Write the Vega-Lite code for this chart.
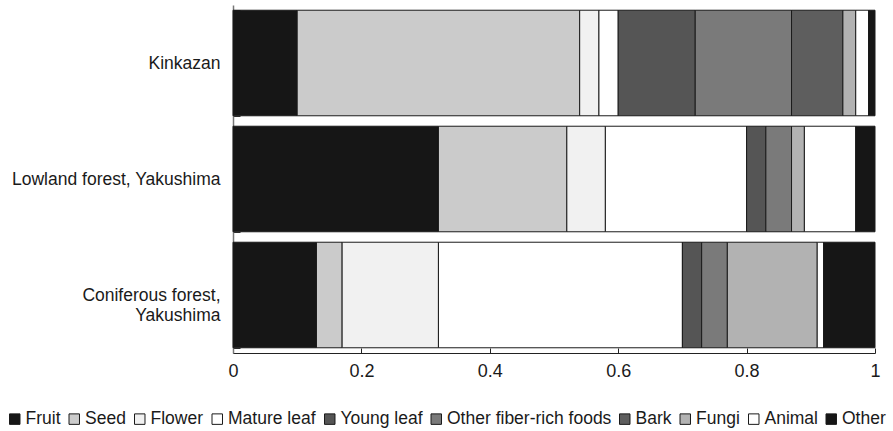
{
  "$schema": "https://vega.github.io/schema/vega-lite/v6.json",
  "autosize": "none",
  "padding": {"left": 233, "top": 5, "right": 18, "bottom": 78},
  "width": 642,
  "height": 348,
  "config": {
    "font": "Liberation Sans",
    "view": {"stroke": null},
    "axis": {"labelFont": "Liberation Sans", "labelColor": "#1a1a1a", "title": null, "grid": false}
  },
  "data": {
    "values": [
      {"site": "Kinkazan", "food": "Fruit", "prop": 0.10},
      {"site": "Kinkazan", "food": "Seed", "prop": 0.44},
      {"site": "Kinkazan", "food": "Flower", "prop": 0.03},
      {"site": "Kinkazan", "food": "Mature leaf", "prop": 0.03},
      {"site": "Kinkazan", "food": "Young leaf", "prop": 0.12},
      {"site": "Kinkazan", "food": "Other fiber-rich foods", "prop": 0.15},
      {"site": "Kinkazan", "food": "Bark", "prop": 0.08},
      {"site": "Kinkazan", "food": "Fungi", "prop": 0.02},
      {"site": "Kinkazan", "food": "Animal", "prop": 0.02},
      {"site": "Kinkazan", "food": "Other", "prop": 0.01},
      {"site": "Lowland forest, Yakushima", "food": "Fruit", "prop": 0.32},
      {"site": "Lowland forest, Yakushima", "food": "Seed", "prop": 0.20},
      {"site": "Lowland forest, Yakushima", "food": "Flower", "prop": 0.06},
      {"site": "Lowland forest, Yakushima", "food": "Mature leaf", "prop": 0.22},
      {"site": "Lowland forest, Yakushima", "food": "Young leaf", "prop": 0.03},
      {"site": "Lowland forest, Yakushima", "food": "Other fiber-rich foods", "prop": 0.04},
      {"site": "Lowland forest, Yakushima", "food": "Fungi", "prop": 0.02},
      {"site": "Lowland forest, Yakushima", "food": "Animal", "prop": 0.08},
      {"site": "Lowland forest, Yakushima", "food": "Other", "prop": 0.03},
      {"site": "Coniferous forest, Yakushima", "food": "Fruit", "prop": 0.13},
      {"site": "Coniferous forest, Yakushima", "food": "Seed", "prop": 0.04},
      {"site": "Coniferous forest, Yakushima", "food": "Flower", "prop": 0.15},
      {"site": "Coniferous forest, Yakushima", "food": "Mature leaf", "prop": 0.38},
      {"site": "Coniferous forest, Yakushima", "food": "Young leaf", "prop": 0.03},
      {"site": "Coniferous forest, Yakushima", "food": "Other fiber-rich foods", "prop": 0.04},
      {"site": "Coniferous forest, Yakushima", "food": "Fungi", "prop": 0.14},
      {"site": "Coniferous forest, Yakushima", "food": "Animal", "prop": 0.01},
      {"site": "Coniferous forest, Yakushima", "food": "Other", "prop": 0.08}
    ]
  },
  "transform": [
    {"calculate": "indexof(['Fruit','Seed','Flower','Mature leaf','Young leaf','Other fiber-rich foods','Bark','Fungi','Animal','Other'], datum.food)", "as": "rank"}
  ],
  "mark": {"type": "bar", "stroke": "#1a1a1a", "strokeWidth": 1, "fillOpacity": 1},
  "encoding": {
    "y": {
      "field": "site",
      "type": "nominal",
      "sort": ["Kinkazan", "Lowland forest, Yakushima", "Coniferous forest, Yakushima"],
      "scale": {"paddingInner": 0.09, "paddingOuter": 0.045},
      "axis": {
        "labelFontSize": 17.5,
        "labelPadding": 20,
        "labelLimit": 300,
        "labelLineHeight": 20,
        "labelExpr": "datum.value === 'Coniferous forest, Yakushima' ? ['Coniferous forest,', 'Yakushima\u00a0\u00a0\u00a0\u00a0\u00a0\u00a0\u00a0'] : datum.value",
        "tickBand": "extent",
        "tickSize": -7,
        "tickColor": "#333",
        "domainColor": "#777",
        "domainWidth": 1.5
      }
    },
    "x": {
      "field": "prop",
      "type": "quantitative",
      "stack": "zero",
      "scale": {"domain": [0, 1], "nice": false},
      "axis": {
        "values": [0, 0.2, 0.4, 0.6, 0.8, 1],
        "format": "~g",
        "labelFontSize": 18,
        "labelPadding": 14,
        "tickSize": -5,
        "tickColor": "#222",
        "domainColor": "#222",
        "labelFlush": false
      }
    },
    "order": {"field": "rank", "type": "quantitative"},
    "fill": {
      "field": "food",
      "type": "nominal",
      "scale": {
        "domain": ["Fruit", "Seed", "Flower", "Mature leaf", "Young leaf", "Other fiber-rich foods", "Bark", "Fungi", "Animal", "Other"],
        "range": ["#161616", "#cbcbcb", "#f1f1f1", "#ffffff", "#555555", "#7a7a7a", "#5e5e5e", "#b2b2b2", "#ffffff", "#161616"]
      },
      "legend": {
        "title": null,
        "orient": "none",
        "legendX": -227,
        "legendY": 405,
        "direction": "horizontal",
        "columns": 10,
        "symbolType": "square",
        "symbolSize": 110,
        "symbolStrokeColor": "#1a1a1a",
        "symbolStrokeWidth": 1,
        "labelFontSize": 17.5,
        "labelColor": "#1a1a1a",
        "labelOffset": 2,
        "columnPadding": 4.5,
        "labelLimit": 300
      }
    }
  }
}
